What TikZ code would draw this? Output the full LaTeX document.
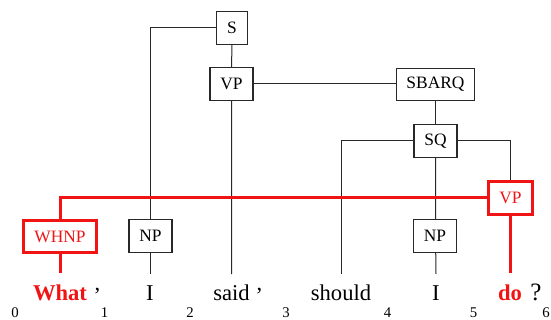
\documentclass[tikz,border=0pt]{standalone}
\usepackage{fontspec}
\setmainfont{Liberation Serif}
\definecolor{tred}{RGB}{240,20,20}
\definecolor{lgray}{RGB}{40,40,40}
\begin{document}
\begin{tikzpicture}[x=0.5pt,y=-0.5pt,
  cat/.style={draw=lgray, line width=0.55pt, fill=white, font=\fontsize{8.7pt}{10pt}\selectfont, inner xsep=5.2pt, inner ysep=0pt, minimum height=16.2pt},
  redcat/.style={cat, draw=tred, text=tred, line width=1.5pt},
  br/.style={draw=lgray, line width=0.5pt},
  redbr/.style={draw=tred, line width=1.5pt},
  word/.style={anchor=base, inner sep=0pt, font=\fontsize{11.3pt}{13pt}\selectfont},
  idx/.style={anchor=base, inner sep=0pt, font=\fontsize{7.4pt}{9pt}\selectfont}]
\useasboundingbox (0,0) rectangle (551,320);
% words
\node[word, text=tred, font=\fontsize{11.3pt}{13pt}\selectfont\bfseries] (w0) at (60,300) {What};
\node[word] (c0) at (97.5,300) {\raisebox{5pt}{,}};
\node[word] (w1) at (150,300) {I};
\node[word] (w2) at (231.5,300) {said};
\node[word] (c2) at (259.5,300) {\raisebox{5pt}{,}};
\node[word] (w3) at (341,300) {should};
\node[word] (w4) at (436,300) {I};
\node[word, text=tred, font=\fontsize{11.3pt}{13pt}\selectfont\bfseries] (w5) at (510,300) {do};
\node[word, font=\fontsize{12.5pt}{14pt}\selectfont] (q) at (536,300) {?};
% indices
\node[idx] (i0) at (15,317) {0};
\node[idx] (i1) at (104.5,317) {1};
\node[idx] (i2) at (190,317) {2};
\node[idx] (i3) at (286,317) {3};
\node[idx] (i4) at (387.5,317) {4};
\node[idx] (i5) at (473.5,317) {5};
\node[idx] (i6) at (546,317) {6};
% word tops
\coordinate (t0) at (60,273);
\coordinate (t1) at (150.5,274);
\coordinate (t2) at (231.5,274);
\coordinate (t3) at (341,274);
\coordinate (t4) at (436,274);
\coordinate (t5) at (510.5,273);
% lines first
\coordinate (sl) at (150.5,28);
\coordinate (sql) at (341,141);
\coordinate (sqr) at (510.5,141);
\coordinate (rl) at (60,198);
\draw[br] (232,28) -- (sl) -- (150.5,236);
\draw[br] (232,28) -- (231.5,84) -- (t2);
\draw[br] (231.5,84) -- (435.5,84) -- (435.5,141);
\draw[br] (435.5,141) -- (sql) -- (t3);
\draw[br] (435.5,141) -- (sqr) -- (510.5,198);
\draw[br] (435.5,141) -- (435.5,236) -- (t4);
\draw[br] (150.5,236) -- (t1);
\draw[redbr] (510.5,198) -- (rl) -- (60,236) -- (t0);
\draw[redbr] (510.5,198) -- (t5);
% nodes
\node[cat] (S) at (232,28) {S};
\node[cat] (VP1) at (231.5,84) {VP};
\node[cat] (SBARQ) at (435.5,84.5) {SBARQ};
\node[cat] (SQ) at (435.5,141) {SQ};
\node[redcat] (WHNP) at (60,236.5) {WHNP};
\node[cat] (NP1) at (150.5,236) {NP};
\node[cat] (NP2) at (435,236) {NP};
\node[redcat] (VP2) at (510.5,198) {VP};
\end{tikzpicture}
\end{document}
